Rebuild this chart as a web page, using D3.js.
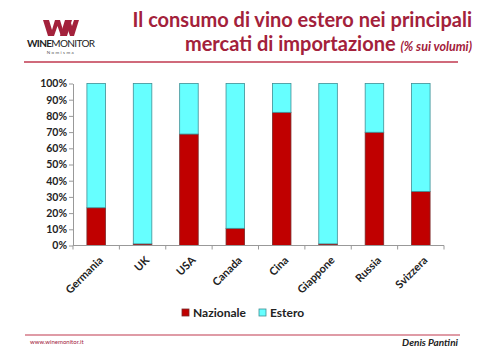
<!DOCTYPE html>
<meta charset="utf-8">
<style>
  body { margin: 0; background: #fff; }
  svg { font-family: Lato, "Open Sans", sans-serif; }
</style>
<div id="chart"></div>
<script src="https://d3js.org/d3.v7.min.js"></script>
<script>
// data (% of volume)
const countries = ["Germania", "UK", "USA", "Canada", "Cina", "Giappone", "Russia", "Svizzera"];
const nazionale = [23.3, 1, 68.8, 10.6, 82.2, 1, 69.9, 33.4];
const estero = nazionale.map(v => 100 - v);
const seriesNames = ["Nazionale", "Estero"];
const seriesColors = ["#c00000", "#66ffff"];
const yTicks = [0, 10, 20, 30, 40, 50, 60, 70, 80, 90, 100];

const W = 480, H = 360;
const wine = "#a3213b";

const svg = d3.select("#chart").append("svg")
    .attr("width", W).attr("height", H);

// header
const logo = svg.append("g").attr("transform", "translate(43,20)");
logo.append("path")
    .attr("d", "M0,0 L6,0 L9,10 L12,0 L17,0 L20,10 L23,0 L29,0 L24,16 L18,16 L14.5,6 L11,16 L5,16 Z")
    .attr("fill", wine);
logo.append("path")
    .attr("d", "M17,16 L22,0 L27,0 L29,6 L31,0 L36,0 L31,16 L27,16 L25,10 L23,16 Z")
    .attr("fill", wine);
logo.append("text").attr("x", 18).attr("y", 27).attr("text-anchor", "middle")
    .attr("font-size", 10).attr("fill", "#222").attr("textLength", 68)
    .html('<tspan font-weight="bold">WINE</tspan>MONITOR');
logo.append("text").attr("x", 18).attr("y", 33.5).attr("text-anchor", "middle")
    .attr("font-size", 4.5).attr("letter-spacing", 1.4).attr("fill", "#555").text("Nomisma");

svg.append("text").attr("x", 472).attr("y", 27).attr("text-anchor", "end")
    .attr("font-size", 20).attr("font-weight", "bold").attr("fill", wine)
    .text("Il consumo di vino estero nei principali");
svg.append("text").attr("x", 472).attr("y", 51).attr("text-anchor", "end")
    .attr("font-size", 20).attr("font-weight", "bold").attr("fill", wine)
    .html('mercati di importazione <tspan font-size="12.5" font-style="italic">(% sui volumi)</tspan>');

svg.append("line").attr("x1", 24).attr("x2", 458).attr("y1", 62).attr("y2", 62)
    .attr("stroke", "#c0394f").attr("stroke-width", 1.5);

// chart
const x = d3.scaleBand().domain(countries).range([73, 444]).paddingInner(0.6).paddingOuter(0.3);
const y = d3.scaleLinear().domain([0, 100]).range([245.5, 83.5]);

const stack = d3.stack().keys(seriesNames)(countries.map((c, i) => ({
  country: c, Nazionale: nazionale[i], Estero: estero[i]
})));

svg.append("g").selectAll("g").data(stack).join("g")
    .attr("fill", (d, i) => seriesColors[i])
    .attr("stroke", (d, i) => i === 0 ? "#7a2a2a" : "#3f8f95")
  .selectAll("rect").data(d => d).join("rect")
    .attr("x", d => x(d.data.country))
    .attr("width", x.bandwidth())
    .attr("y", d => y(d[1]))
    .attr("height", d => y(d[0]) - y(d[1]))
    .attr("stroke-width", 0.8);

// y axis
const yAxis = svg.append("g").attr("transform", "translate(73,0)")
    .call(d3.axisLeft(y).tickValues(yTicks).tickFormat(d => d + "%").tickSize(4).tickSizeOuter(0));
yAxis.select(".domain").attr("stroke", "#999");
yAxis.selectAll(".tick line").attr("stroke", "#999");
yAxis.selectAll("text").attr("font-size", 10.5).attr("font-weight", "bold")
    .attr("fill", "#222").attr("x", -6).attr("font-family", "Lato, sans-serif");

// x axis: ticks between categories
const xAxis = svg.append("g").attr("transform", "translate(0,245.5)");
xAxis.append("line").attr("x1", 73).attr("x2", 444).attr("stroke", "#999");
xAxis.selectAll(".sep").data(d3.range(countries.length + 1)).join("line")
    .attr("class", "sep")
    .attr("x1", i => 73 + i * x.step())
    .attr("x2", i => 73 + i * x.step())
    .attr("y1", 0).attr("y2", 4).attr("stroke", "#999");
xAxis.selectAll("text").data(countries).join("text")
    .attr("transform", d => `translate(${x(d) + x.bandwidth() / 2 + 2},10) rotate(-45)`)
    .attr("text-anchor", "end").attr("dy", "0.7em")
    .attr("font-size", 11).attr("font-weight", "bold").attr("fill", "#222")
    .text(d => d);

// legend
const legend = svg.append("g").attr("transform", "translate(182,309)");
const li = legend.selectAll("g").data(seriesNames).join("g")
    .attr("transform", (d, i) => `translate(${i * 77},0)`);
li.append("rect").attr("width", 7).attr("height", 7)
    .attr("fill", (d, i) => seriesColors[i])
    .attr("stroke", (d, i) => i === 0 ? "#7a2a2a" : "#3f8f95").attr("stroke-width", 0.8);
li.append("text").attr("x", 11).attr("y", 7.5)
    .attr("font-size", 12).attr("font-weight", "bold").attr("fill", "#222").text(d => d);

// footer
svg.append("line").attr("x1", 25).attr("x2", 460).attr("y1", 335).attr("y2", 335)
    .attr("stroke", "#c0394f").attr("stroke-width", 1.2);
svg.append("text").attr("x", 30).attr("y", 344).attr("font-size", 6).attr("fill", wine)
    .text("www.winemonitor.it");
svg.append("text").attr("x", 458).attr("y", 346).attr("text-anchor", "end")
    .attr("font-size", 10).attr("font-weight", "bold").attr("font-style", "italic").attr("fill", "#222")
    .text("Denis Pantini");
</script>
